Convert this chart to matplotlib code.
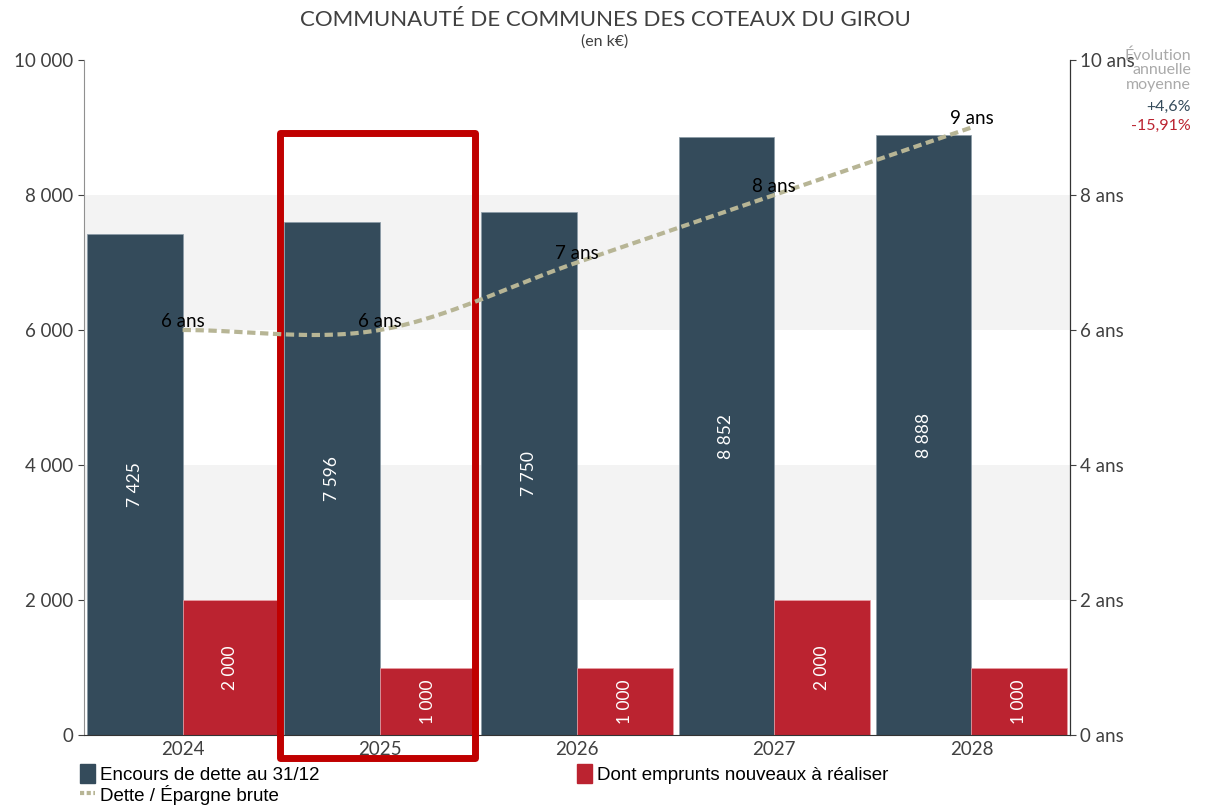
import numpy as np
import matplotlib.pyplot as plt
from matplotlib.patches import Rectangle
from matplotlib.lines import Line2D
from matplotlib.patches import Patch

plt.rcParams['font.family'] = ['Lato', 'DejaVu Sans']

years = ['2024', '2025', '2026', '2027', '2028']
encours = [7425, 7596, 7750, 8852, 8888]
emprunts = [2000, 1000, 1000, 2000, 1000]
ratio = [6.0, 6.0, 7.0, 8.0, 9.0]
ratio_labels = ['6 ans', '6 ans', '7 ans', '8 ans', '9 ans']
highlight_year = '2025'

c_blue = '#344b5b'
c_red = '#bb2330'
c_line = '#b7b595'
c_text = '#404040'


def fmt_k(v):
    return f"{int(v):,}".replace(',', ' ')


def spline(xs, ys, n=40):
    # catmull-rom smoothing between the given points
    xs = np.asarray(xs, float)
    ys = np.asarray(ys, float)
    m = np.zeros_like(ys)
    m[1:-1] = (ys[2:] - ys[:-2]) / 2
    m[0] = 0.0
    m[-1] = ys[-1] - ys[-2]
    px, py = [], []
    for i in range(len(xs) - 1):
        t = np.linspace(0, 1, n)
        h00 = 2 * t**3 - 3 * t**2 + 1
        h10 = t**3 - 2 * t**2 + t
        h01 = -2 * t**3 + 3 * t**2
        h11 = t**3 - t**2
        py.append(h00 * ys[i] + h10 * m[i] + h01 * ys[i + 1] + h11 * m[i + 1])
        px.append(xs[i] + t * (xs[i + 1] - xs[i]))
    return np.concatenate(px), np.concatenate(py)


fig = plt.figure(figsize=(12.1, 8.11), dpi=100)
ax = fig.add_axes([84 / 1210, 1 - 735 / 811, (1070 - 84) / 1210, (735 - 60) / 811])
ax2 = ax.twinx()

x = np.arange(len(years))
w = 0.485

# background bands
for lo in (2000, 6000):
    ax.axhspan(lo, lo + 2000, color='#f3f3f3', zorder=0, lw=0)

ax.bar(x - w / 2, encours, width=w, color=c_blue, edgecolor='#8a9aa6',
       linewidth=0.5, zorder=2)
ax.bar(x + w / 2, emprunts, width=w, color=c_red, edgecolor='#e8a0a6',
       linewidth=0.5, zorder=2)

for xi, v in zip(x, encours):
    ax.text(xi - w / 2, v / 2, fmt_k(v), rotation=90, ha='center', va='center',
            color='white', fontsize=12.5, zorder=3)
for xi, v in zip(x, emprunts):
    ax.text(xi + w / 2, v / 2, fmt_k(v), rotation=90, ha='center', va='center',
            color='white', fontsize=12.5, zorder=3)

ax.set_xlim(-0.5, len(years) - 0.5)
ax.set_ylim(0, 10000)
ax.set_yticks(np.arange(0, 10001, 2000))
ax.set_yticklabels([fmt_k(v) for v in np.arange(0, 10001, 2000)])
ax.set_xticks(x)
ax.set_xticklabels(years)
ax.tick_params(axis='both', labelsize=13.5, colors=c_text, length=4, width=0.8)
ax.tick_params(axis='x', length=0, pad=4)

ax2.set_ylim(0, 10)
ax2.set_yticks(np.arange(0, 11, 2))
ax2.set_yticklabels([f"{v} ans" for v in range(0, 11, 2)])
ax2.tick_params(axis='y', labelsize=13.5, colors=c_text, length=4, width=0.8)

lx, ly = spline(x, ratio)
ax2.plot(lx, ly, color=c_line, lw=3, ls=(0, (2.0, 1.1)), zorder=5)
for xi, v, lab in zip(x, ratio, ratio_labels):
    ax2.text(xi, v + 0.13, lab, ha='center', va='center', fontsize=13.5,
             color='black', zorder=6)

for a in (ax, ax2):
    a.spines['top'].set_visible(False)
ax.spines['left'].set_color('#909090')
ax2.spines['left'].set_visible(False)
ax.spines['bottom'].set_color('#333333')
ax2.spines['right'].set_color('#333333')
ax2.spines['bottom'].set_visible(False)
ax.set_zorder(ax2.get_zorder() - 1)
ax.patch.set_visible(True)
ax2.patch.set_visible(False)

# highlight frame around the selected year
hi = years.index(highlight_year)
ax.add_patch(Rectangle((hi - 0.505, -340), 0.99, 9260, fill=False,
                       edgecolor='#c00000', lw=5, clip_on=False, zorder=10,
                       joinstyle='round'))

fig.text(0.5, 0.975, "COMMUNAUTÉ DE COMMUNES DES COTEAUX DU GIROU",
         ha='center', va='center', fontsize=16, color=c_text)
fig.text(0.5, 0.949, "(en k€)", ha='center', va='center', fontsize=11.5,
         color=c_text)

fig.text(1191 / 1210, 1 - 48 / 811, "Évolution\nannuelle\nmoyenne", ha='right',
         va='top', fontsize=11.5, color='#aaaaaa', linespacing=1.05)
fig.text(1191 / 1210, 1 - 107 / 811, "+4,6%", ha='right', va='center',
         fontsize=11.5, color=c_blue)
fig.text(1191 / 1210, 1 - 126 / 811, "-15,91%", ha='right', va='center',
         fontsize=11.5, color=c_red)

handles = [Patch(color=c_blue),
           Line2D([0], [0], color=c_line, lw=3, ls=(0, (1, 0.6))),
           Patch(color=c_red)]
labels = ["Encours de dette au 31/12", "Dette / Épargne brute",
          "Dont emprunts nouveaux à réaliser"]
fig.legend(handles, labels, ncol=2, loc='upper left',
           bbox_to_anchor=(0.066, 1 - 764 / 811), frameon=False,
           prop={'family': ['Liberation Sans Narrow', 'Liberation Sans'], 'size': 13.5},
           handlelength=0.8, handleheight=1.2, handletextpad=0.3,
           labelspacing=0.05, columnspacing=13.7, borderaxespad=0,
           borderpad=0, labelcolor='black')

fig.savefig('out.png', dpi=100)
